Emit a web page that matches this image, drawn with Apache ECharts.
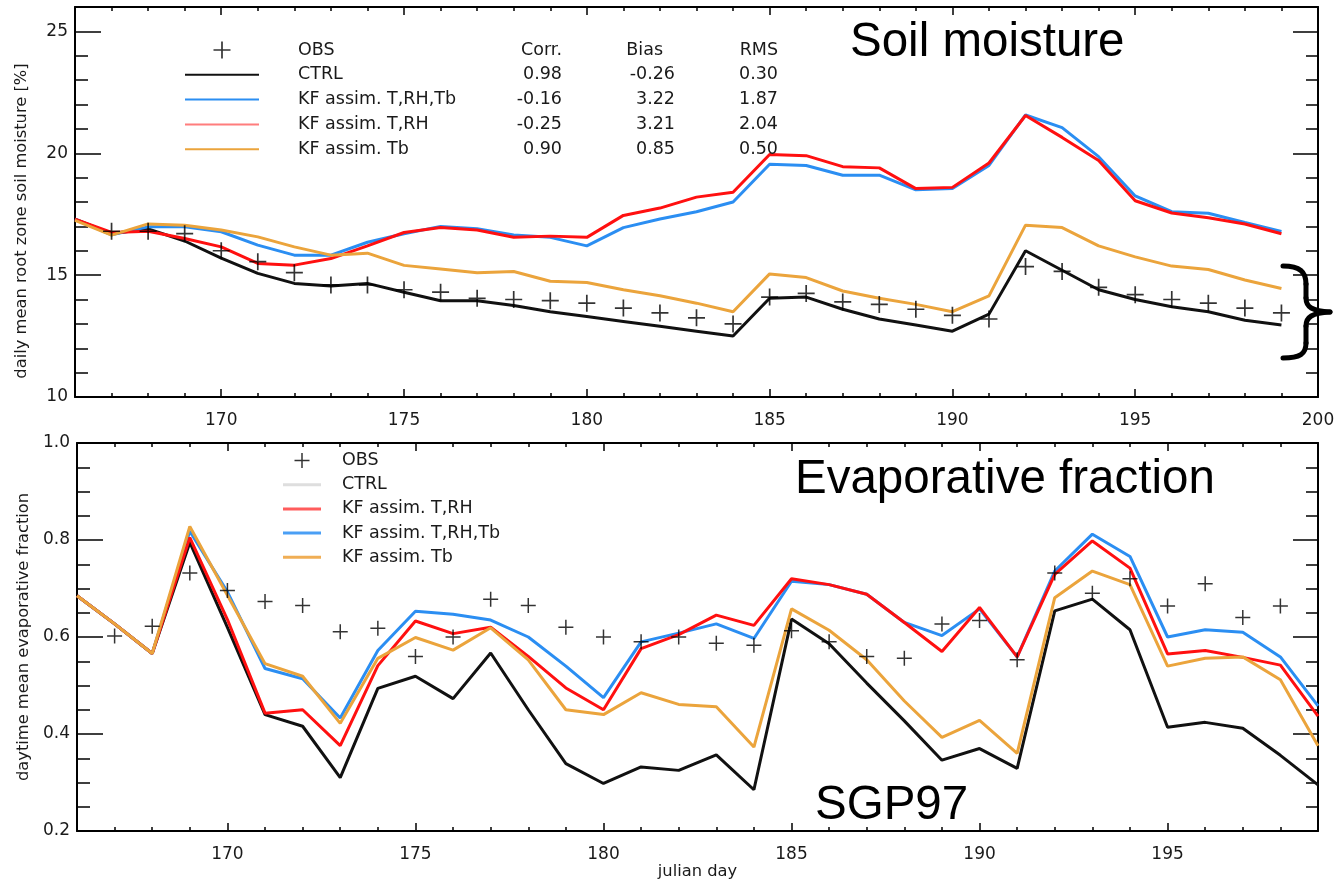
<!DOCTYPE html>
<html>
<head>
<meta charset="utf-8">
<title>SGP97 soil moisture and evaporative fraction</title>
<script src="https://cdn.jsdelivr.net/npm/echarts@6.0.0/dist/echarts.min.js"></script>
<style>
  html, body { margin: 0; padding: 0; background: #fff; }
  #chart { width: 1338px; height: 889px; }
</style>
</head>
<body>
<div id="chart"></div>
<script>
// julian days shared by both panels
const days = [166, 167, 168, 169, 170, 171, 172, 173, 174, 175, 176, 177, 178, 179, 180, 181, 182,
              183, 184, 185, 186, 187, 188, 189, 190, 191, 192, 193, 194, 195, 196, 197, 198, 199];

// upper panel: daily mean root zone soil moisture [%]
const smObs   = [null, 16.8, 16.8, 16.7, 16.0, 15.55, 15.1, 14.6, 14.6, 14.4, 14.3, 14.05, 14.0, 13.95, 13.85, 13.65, 13.45,
                 13.25, 13.0, 14.1, 14.25, 13.9, 13.8, 13.6, 13.35, 13.2, 15.35, 15.15, 14.5, 14.2, 14.0, 13.85, 13.65, 13.45];
const smCtrl  = [17.3, 16.7, 16.9, 16.4, 15.7, 15.07, 14.66, 14.55, 14.66, 14.3, 13.95, 13.95, 13.75, 13.5, 13.3, 13.1, 12.9,
                 12.7, 12.5, 14.05, 14.1, 13.6, 13.2, 12.95, 12.7, 13.4, 16.0, 15.2, 14.4, 14.0, 13.7, 13.5, 13.15, 12.95];
const smTRhTb = [17.3, 16.65, 16.98, 16.98, 16.78, 16.23, 15.82, 15.82, 16.35, 16.7, 17.0, 16.9, 16.65, 16.55, 16.2, 16.95, 17.3,
                 17.6, 18.0, 19.55, 19.5, 19.1, 19.1, 18.5, 18.55, 19.5, 21.57, 21.05, 19.86, 18.25, 17.6, 17.54, 17.16, 16.79];
const smTRh   = [17.3, 16.75, 16.8, 16.5, 16.16, 15.48, 15.41, 15.68, 16.2, 16.75, 16.95, 16.85, 16.55, 16.6, 16.55, 17.45, 17.75,
                 18.2, 18.4, 19.95, 19.9, 19.45, 19.4, 18.55, 18.6, 19.6, 21.55, 20.65, 19.7, 18.05, 17.55, 17.35, 17.1, 16.7];
const smTb    = [17.25, 16.64, 17.1, 17.05, 16.85, 16.57, 16.16, 15.82, 15.9, 15.4, 15.25, 15.1, 15.15, 14.75, 14.7, 14.4, 14.15,
                 13.85, 13.5, 15.05, 14.9, 14.35, 14.05, 13.8, 13.5, 14.15, 17.05, 16.95, 16.2, 15.75, 15.37, 15.23, 14.8, 14.45];

// lower panel: daytime mean evaporative fraction
const efObs   = [null, 0.602, 0.622, 0.732, 0.696, 0.673, 0.665, 0.611, 0.618, 0.56, 0.60, 0.678, 0.665, 0.62, 0.60, 0.59, 0.60,
                 0.587, 0.583, 0.613, 0.59, 0.56, 0.556, 0.627, 0.634, 0.553, 0.732, 0.69, 0.72, 0.664, 0.71, 0.64, 0.664, null];
const efCtrl  = [0.685, 0.627, 0.566, 0.795, 0.62, 0.44, 0.416, 0.31, 0.494, 0.519, 0.473, 0.567, 0.45, 0.339, 0.298, 0.332, 0.325,
                 0.357, 0.285, 0.637, 0.586, 0.505, 0.427, 0.346, 0.37, 0.329, 0.654, 0.678, 0.615, 0.414, 0.424, 0.412, 0.356, 0.295];
const efTRh   = [0.685, 0.627, 0.566, 0.805, 0.636, 0.443, 0.45, 0.376, 0.541, 0.633, 0.607, 0.62, 0.56, 0.495, 0.45, 0.576, 0.605,
                 0.645, 0.624, 0.72, 0.708, 0.688, 0.63, 0.57, 0.661, 0.559, 0.729, 0.798, 0.742, 0.565, 0.572, 0.558, 0.542, 0.437];
const efTRhTb = [0.685, 0.627, 0.566, 0.818, 0.693, 0.535, 0.514, 0.433, 0.572, 0.653, 0.647, 0.635, 0.60, 0.54, 0.475, 0.59, 0.608,
                 0.627, 0.597, 0.715, 0.708, 0.688, 0.63, 0.603, 0.658, 0.559, 0.736, 0.812, 0.766, 0.60, 0.615, 0.61, 0.559, 0.458];
const efTb    = [0.685, 0.627, 0.566, 0.828, 0.686, 0.545, 0.519, 0.422, 0.556, 0.599, 0.573, 0.619, 0.553, 0.45, 0.44, 0.485, 0.461,
                 0.456, 0.373, 0.658, 0.614, 0.553, 0.468, 0.393, 0.428, 0.36, 0.681, 0.736, 0.708, 0.54, 0.556, 0.559, 0.512, 0.376];

// tick labels
const smDayTicks = [170, 175, 180, 185, 190, 195, 200];
const efDayTicks = [170, 175, 180, 185, 190, 195];
const smTicks = [10, 15, 20, 25];
const efTicks = [0.2, 0.4, 0.6, 0.8, 1.0];

// statistics table in the upper legend
const statNames = ['CTRL', 'KF assim. T,RH,Tb', 'KF assim. T,RH', 'KF assim. Tb'];
const statCorr  = ['0.98', '-0.16', '-0.25', '0.90'];
const statBias  = ['-0.26', '3.22', '3.21', '0.85'];
const statRms   = ['0.30', '1.87', '2.04', '0.50'];

const FONT = 'DejaVu Sans';
const PLUS = 'path://M9,0h2v20h-2z M0,9h20v2h-20z';
// flat bars used as plain line samples in the legends
const LINE_TOP = 'path://M0,0h74v2h-74z';
const LINE_BOTTOM = 'path://M0,0h38v3h-38z';
const C_CTRL = '#111111', C_BLUE = '#2b8ef2', C_RED = '#ff1010', C_ORANGE = '#eba43c';
const tickLine = { color: '#000', width: 1.5 };
const frameLine = { color: '#000', width: 2 };
const labelStyle = { fontFamily: FONT, fontSize: 17, color: '#1a1a1a' };
const nameStyle = { fontFamily: FONT, fontSize: 16.3, color: '#1a1a1a' };

function pairs(ys) {
    return days.map((d, i) => [d, ys[i]]).filter(p => p[1] !== null);
}

// 4 x axes per panel: minor/major at bottom, minor/major mirrored at top
function xAxes(grid, max, majors, name) {
    const base = { type: 'value', gridIndex: grid, min: 166, max: max, splitLine: { show: false } };
    return [
        Object.assign({}, base, {
            position: 'bottom', interval: 1,
            axisLine: { show: true, onZero: false, lineStyle: frameLine },
            axisTick: { inside: true, length: 4, lineStyle: tickLine },
            axisLabel: { show: false }
        }),
        Object.assign({}, base, {
            position: 'bottom',
            axisLine: { show: false, onZero: false },
            axisTick: { inside: true, length: 8, customValues: majors, lineStyle: tickLine },
            axisLabel: Object.assign({ customValues: majors, margin: 15 }, labelStyle),
            name: name, nameLocation: 'middle', nameGap: 33, nameTextStyle: nameStyle
        }),
        Object.assign({}, base, {
            position: 'top', interval: 1,
            axisLine: { show: true, onZero: false, lineStyle: frameLine },
            axisTick: { inside: true, length: 4, lineStyle: tickLine },
            axisLabel: { show: false }
        }),
        Object.assign({}, base, {
            position: 'top',
            axisLine: { show: false, onZero: false },
            axisTick: { inside: true, length: 8, customValues: majors, lineStyle: tickLine },
            axisLabel: { show: false }
        })
    ];
}

// 4 y axes per panel: minor/major on the left, minor/major mirrored on the right
function yAxes(grid, min, max, step, majors, fmt, name, namePad) {
    const base = { type: 'value', gridIndex: grid, min: min, max: max, splitLine: { show: false } };
    return [
        Object.assign({}, base, {
            position: 'left', interval: step,
            axisLine: { show: true, onZero: false, lineStyle: frameLine },
            axisTick: { inside: true, length: 13, lineStyle: tickLine },
            axisLabel: { show: false }
        }),
        Object.assign({}, base, {
            position: 'left',
            axisLine: { show: false, onZero: false },
            axisTick: { inside: true, length: 26, customValues: majors, lineStyle: tickLine },
            axisLabel: Object.assign({ customValues: majors, margin: 7, formatter: fmt }, labelStyle),
            name: name, nameLocation: 'middle', nameGap: 45, nameRotate: 90,
            nameTextStyle: Object.assign({ padding: namePad }, nameStyle)
        }),
        Object.assign({}, base, {
            position: 'right', interval: step,
            axisLine: { show: true, onZero: false, lineStyle: frameLine },
            axisTick: { inside: true, length: 12, lineStyle: tickLine },
            axisLabel: { show: false }
        }),
        Object.assign({}, base, {
            position: 'right',
            axisLine: { show: false, onZero: false },
            axisTick: { inside: true, length: 25, customValues: majors, lineStyle: tickLine },
            axisLabel: { show: false }
        })
    ];
}

function line(name, ys, color, axis) {
    return {
        name: name, type: 'line', xAxisIndex: axis, yAxisIndex: axis,
        data: pairs(ys), symbol: 'none',
        lineStyle: { color: color, width: 3 }, itemStyle: { color: color }, z: 3
    };
}

function obs(ys, size, axis) {
    return {
        name: 'OBS', type: 'scatter', xAxisIndex: axis, yAxisIndex: axis,
        data: pairs(ys), symbol: PLUS, symbolSize: size,
        itemStyle: { color: '#000' }, z: 5
    };
}

// curly brace to the right of the upper panel
const braceStyle = { stroke: '#000', lineWidth: 5, fill: 'none', lineCap: 'round' };
function curve(x1, y1, cx1, cy1, cx2, cy2, x2, y2) {
    return { type: 'bezierCurve', silent: true, shape: { x1: x1, y1: y1, cpx1: cx1, cpy1: cy1, cpx2: cx2, cpy2: cy2, x2: x2, y2: y2 }, style: braceStyle };
}
function seg(x1, y1, x2, y2) {
    return { type: 'line', silent: true, shape: { x1: x1, y1: y1, x2: x2, y2: y2 }, style: braceStyle };
}

const bigTitle = { fontFamily: 'Liberation Sans', fontSize: 47.5, fontWeight: 'normal', color: '#000' };

const chart = echarts.init(document.getElementById('chart'));
chart.setOption({
    animation: false,
    backgroundColor: '#fff',
    title: [
        { text: 'Soil moisture', left: 850, top: 19, padding: 0, textStyle: bigTitle },
        { text: 'Evaporative fraction', left: 795, top: 456, padding: 0, textStyle: bigTitle },
        { text: 'SGP97', left: 815, top: 782, padding: 0, textStyle: bigTitle }
    ],
    grid: [
        { left: 75, right: 20, top: 7, height: 390, containLabel: false, outerBoundsMode: 'none' },
        { left: 77, right: 20, top: 443, height: 388, containLabel: false, outerBoundsMode: 'none' }
    ],
    xAxis: xAxes(0, 200, smDayTicks, '').concat(xAxes(1, 199, efDayTicks, 'julian day')),
    yAxis: yAxes(0, 10, 26, 1, smTicks, v => String(v), 'daily mean root zone soil moisture [%]', [0, 38, 0, 0])
        .concat(yAxes(1, 0.2, 1.0, 0.05, efTicks, v => v.toFixed(1), 'daytime mean evaporative fraction', [0, 0, 0, 0])),
    legend: [
        {
            orient: 'vertical', left: 185, top: 41, padding: 0,
            itemWidth: 74, itemHeight: 17, itemGap: 6.8, selectedMode: false,
            data: [
                'OBS',
                { name: 'CTRL', icon: LINE_TOP },
                { name: 'KF assim. T,RH,Tb', icon: LINE_TOP },
                { name: 'KF assim. T,RH', icon: LINE_TOP, itemStyle: { color: '#ff7d7d' } },
                { name: 'KF assim. Tb', icon: LINE_TOP }
            ],
            formatter: function (name) {
                if (name === 'OBS') return '{n|OBS}{c|Corr.}{bh|Bias}{r|RMS}';
                const i = statNames.indexOf(name);
                return '{n|' + name + '}{c|' + statCorr[i] + '}{b|' + statBias[i] + '}{r|' + statRms[i] + '}';
            },
            textStyle: {
                fontFamily: FONT, fontSize: 17.5, color: '#1a1a1a',
                rich: {
                    n: { fontFamily: FONT, fontSize: 17.5, lineHeight: 17, width: 200, padding: [0, 0, 0, 34] },
                    c: { fontFamily: FONT, fontSize: 17.5, lineHeight: 17, width: 64, align: 'right' },
                    b: { fontFamily: FONT, fontSize: 17.5, lineHeight: 17, width: 113, align: 'right' },
                    bh: { fontFamily: FONT, fontSize: 17.5, lineHeight: 17, width: 101, padding: [0, 12, 0, 0], align: 'right' },
                    r: { fontFamily: FONT, fontSize: 17.5, lineHeight: 17, width: 103, align: 'right' }
                }
            }
        },
        {
            orient: 'vertical', left: 283, top: 451.5, padding: 0,
            itemWidth: 38, itemHeight: 15, itemGap: 6.2, selectedMode: false,
            data: [
                'OBS',
                { name: 'CTRL', icon: LINE_BOTTOM, itemStyle: { color: '#dedede' } },
                { name: 'KF assim. T,RH', icon: LINE_BOTTOM, itemStyle: { color: '#ff5c5c' } },
                { name: 'KF assim. T,RH,Tb', icon: LINE_BOTTOM, itemStyle: { color: '#4a9ff5' } },
                { name: 'KF assim. Tb', icon: LINE_BOTTOM, itemStyle: { color: '#f0ae55' } }
            ],
            formatter: name => '{n|' + name + '}',
            textStyle: {
                fontFamily: FONT, fontSize: 17.5, color: '#1a1a1a',
                rich: { n: { fontFamily: FONT, fontSize: 17.5, lineHeight: 15, padding: [0, 0, 0, 16] } }
            }
        }
    ],
    graphic: [
        curve(1283, 266, 1300, 266, 1306, 272, 1306, 284),
        seg(1306, 284, 1306, 298),
        curve(1306, 298, 1306, 307, 1312, 311, 1330, 312),
        curve(1330, 312, 1312, 313, 1306, 317, 1306, 326),
        seg(1306, 326, 1306, 343),
        curve(1306, 343, 1306, 354, 1300, 358, 1283, 358)
    ],
    series: [
        line('CTRL', smCtrl, C_CTRL, 0),
        line('KF assim. T,RH,Tb', smTRhTb, C_BLUE, 0),
        line('KF assim. T,RH', smTRh, C_RED, 0),
        line('KF assim. Tb', smTb, C_ORANGE, 0),
        obs(smObs, 17, 0),
        line('CTRL', efCtrl, C_CTRL, 4),
        line('KF assim. T,RH,Tb', efTRhTb, C_BLUE, 4),
        line('KF assim. T,RH', efTRh, C_RED, 4),
        line('KF assim. Tb', efTb, C_ORANGE, 4),
        obs(efObs, 15, 4)
    ]
});
</script>
</body>
</html>
